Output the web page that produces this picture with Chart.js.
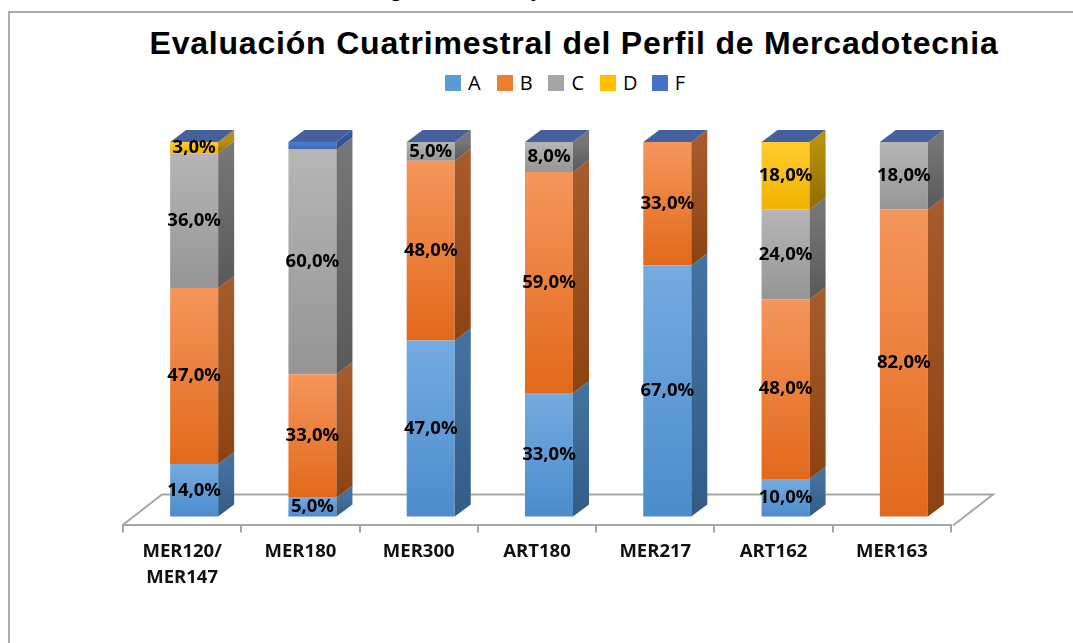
<!DOCTYPE html>
<html>
<head>
<meta charset="utf-8">
<script src="https://cdn.jsdelivr.net/npm/chart.js@4/dist/chart.umd.min.js"></script>
<style>
  html, body { margin: 0; padding: 0; background: #fff; }
  #wrap { position: relative; width: 1073px; height: 643px; overflow: hidden; }
  #frame { position: absolute; left: 8px; top: 11px; width: 1200px; height: 800px; border: 2px solid #ABABAB; box-sizing: border-box; }
  #caption { position: absolute; left: 28px; top: -27px; font: italic bold 26px "Liberation Serif", serif; white-space: nowrap; color: #000; }
  #title { position: absolute; left: 0; width: 1148px; top: 25px; text-align: center; font: bold 32px "Liberation Sans", Arial, sans-serif; letter-spacing: 0.8px; color: #000; white-space: nowrap; }
  #legend { position: absolute; left: 445px; top: 69px; display: flex; font: 20px "Open Sans", sans-serif; color: #000; }
  #legend .item { width: 51.7px; display: flex; align-items: center; }
  #legend .sw { width: 16px; height: 16px; margin-right: 7px; }
  canvas { position: absolute; left: 0; top: 0; }
</style>
</head>
<body>
<div id="wrap">
  <div id="caption">Variación Cuatrimestral de las asignaturas Perfil de Mercadotecnia</div>
  <div id="frame"></div>
  <div id="title">Evaluación Cuatrimestral del Perfil de Mercadotecnia</div>
  <div id="legend"></div>
  <canvas id="chart" width="1073" height="643"></canvas>
</div>
<script>
// data (percent per grade)
const categories = [['MER120/', 'MER147'], 'MER180', 'MER300', 'ART180', 'MER217', 'ART162', 'MER163'];
const gradeA = [14, 5, 47, 33, 67, 10, 0];
const gradeB = [47, 33, 48, 59, 33, 48, 82];
const gradeC = [36, 60, 5, 8, 0, 24, 18];
const gradeD = [3, 0, 0, 0, 0, 18, 0];
const gradeF = [0, 2, 0, 0, 0, 0, 0];

const series = [
    { label: 'A', data: gradeA, top: '#74ACE0', bottom: '#4C8BCC', side: ['#43729F', '#335B86'], swatch: '#5B9BD5', labelled: true },
    { label: 'B', data: gradeB, top: '#F5965C', bottom: '#E2691B', side: ['#A65B2C', '#8C4211'], swatch: '#ED7D31', labelled: true },
    { label: 'C', data: gradeC, top: '#B6B6B6', bottom: '#959595', side: ['#767676', '#595959'], swatch: '#A5A5A5', labelled: true },
    { label: 'D', data: gradeD, top: '#FFCC2E', bottom: '#EFB300', side: ['#B8900F', '#8F6B00'], swatch: '#FFC000', labelled: true },
    { label: 'F', data: gradeF, top: '#4F7ED0', bottom: '#3E67B4', side: ['#30579A', '#26467E'], swatch: '#4472C4', labelled: false },
];

const DX = 12, DY = -9;      // bar position inside the floor depth
const SX = 16, SY = -12;     // bar depth
const FX = 40, FY = -31;     // floor depth
const CAP = '#44619E';

// legend
const legendEl = document.getElementById('legend');
series.forEach((s) => {
    const item = document.createElement('div');
    item.className = 'item';
    item.innerHTML = '<span class="sw" style="background:' + s.swatch + '"></span><span>' + s.label + '</span>';
    legendEl.appendChild(item);
});

function stackStart(dsIndex, i) {
    let sum = 0;
    for (let k = 0; k < dsIndex; k++) sum += series[k].data[i];
    return sum;
}

function frontFill(s, dsIndex) {
    return function (ctx) {
        const chart = ctx.chart;
        const y = chart.scales.y;
        if (ctx.type !== 'data' || !y) return s.swatch;
        const start = stackStart(dsIndex, ctx.dataIndex);
        const y0 = y.getPixelForValue(start + s.data[ctx.dataIndex]);
        const y1 = y.getPixelForValue(start);
        if (!isFinite(y0) || !isFinite(y1) || y0 === y1) return s.swatch;
        const g = chart.ctx.createLinearGradient(0, y0, 0, y1);
        g.addColorStop(0, s.top);
        g.addColorStop(1, s.bottom);
        return g;
    };
}

const bars3d = {
    id: 'bars3d',
    beforeDatasetsDraw(chart) {
        const ctx = chart.ctx;
        const a = chart.chartArea;
        ctx.save();
        ctx.strokeStyle = '#A6A6A6';
        ctx.lineWidth = 2;
        ctx.beginPath();
        ctx.moveTo(a.left - 1, a.bottom);
        ctx.lineTo(a.left - 1 + FX, a.bottom + FY);
        ctx.lineTo(a.right + 2 + FX, a.bottom + FY);
        ctx.lineTo(a.right + 2, a.bottom);
        ctx.stroke();
        ctx.restore();
        ctx.save();
        ctx.translate(DX, DY);
    },
    afterDatasetsDraw(chart) {
        const ctx = chart.ctx;
        ctx.restore();
        const n = categories.length;
        const tops = [];
        chart.data.datasets.forEach((ds, d) => {
            const meta = chart.getDatasetMeta(d);
            meta.data.forEach((el, i) => {
                const s = series[d];
                const xr = el.x + el.width / 2 + DX;
                const yt = el.y + DY;
                const yb = el.base + DY;
                if (tops[i] === undefined || yt < tops[i].y) tops[i] = { y: yt, xl: el.x - el.width / 2 + DX, xr: xr };
                if (Math.abs(yb - yt) < 0.5) return;
                const g = ctx.createLinearGradient(0, yt, 0, yb);
                g.addColorStop(0, s.side[0]);
                g.addColorStop(1, s.side[1]);
                ctx.fillStyle = g;
                ctx.beginPath();
                ctx.moveTo(xr, yb);
                ctx.lineTo(xr + SX, yb + SY);
                ctx.lineTo(xr + SX, yt + SY);
                ctx.lineTo(xr, yt);
                ctx.closePath();
                ctx.fill();
            });
        });
        // top caps
        for (let i = 0; i < n; i++) {
            const t = tops[i];
            if (!t) continue;
            ctx.fillStyle = CAP;
            ctx.beginPath();
            ctx.moveTo(t.xl, t.y);
            ctx.lineTo(t.xr, t.y);
            ctx.lineTo(t.xr + SX, t.y + SY);
            ctx.lineTo(t.xl + SX, t.y + SY);
            ctx.closePath();
            ctx.fill();
        }
        // value labels
        ctx.save();
        ctx.font = 'bold 18.5px "Open Sans", sans-serif';
        ctx.fillStyle = '#000';
        ctx.textAlign = 'center';
        ctx.textBaseline = 'middle';
        chart.data.datasets.forEach((ds, d) => {
            if (!series[d].labelled) return;
            chart.getDatasetMeta(d).data.forEach((el, i) => {
                const v = series[d].data[i];
                if (!v) return;
                ctx.fillText(v.toFixed(1).replace('.', ',') + '%', el.x + DX, (el.y + el.base) / 2 + DY);
            });
        });
        ctx.restore();
    }
};

new Chart(document.getElementById('chart').getContext('2d'), {
    type: 'bar',
    data: {
        labels: categories,
        datasets: series.map((s, d) => ({
            label: s.label,
            data: s.data,
            backgroundColor: frontFill(s, d),
            borderWidth: 0,
            barPercentage: 0.406,
            categoryPercentage: 1,
            clip: false
        }))
    },
    options: {
        responsive: false,
        animation: false,
        layout: { padding: { left: 123, right: 122, top: 151, bottom: 46 } },
        scales: {
            x: {
                stacked: true,
                grid: { display: true, drawOnChartArea: false, tickLength: 7, color: '#A6A6A6', lineWidth: 2, offset: true },
                border: { display: true, color: '#A6A6A6', width: 2 },
                ticks: { color: '#111', padding: 6, font: { family: '"Open Sans", sans-serif', size: 18.5, weight: 'bold', lineHeight: 1.42 } }
            },
            y: { stacked: true, min: 0, max: 100, display: false }
        },
        plugins: { legend: { display: false }, tooltip: { enabled: false } }
    },
    plugins: [bars3d]
});
</script>
</body>
</html>
